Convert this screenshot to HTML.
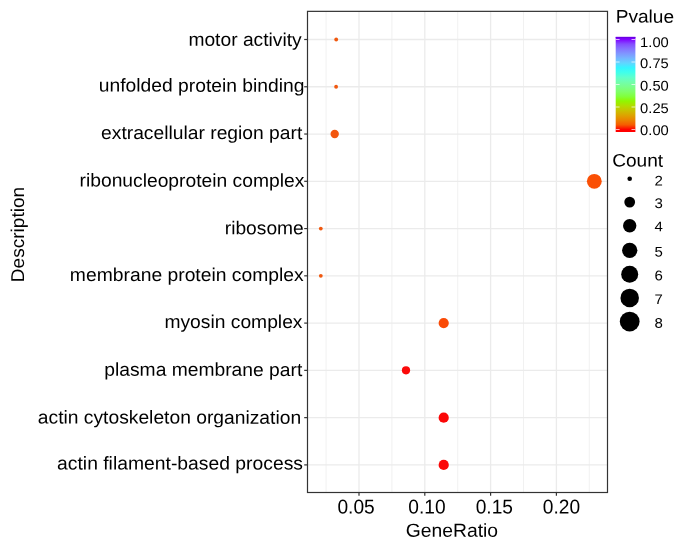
<!DOCTYPE html>
<html><head><meta charset="utf-8"><title>GeneRatio dot plot</title>
<style>
html,body{margin:0;padding:0;background:#fff;}
body{width:685px;height:548px;overflow:hidden;font-family:"Liberation Sans",sans-serif;}
svg{display:block;will-change:transform;}
text{font-family:"Liberation Sans",sans-serif;fill:#000;text-rendering:geometricPrecision;}
</style></head><body>
<svg width="685" height="548" viewBox="0 0 685 548">
<defs>
<linearGradient id="rb" x1="0" y1="1" x2="0" y2="0">
<stop offset="0.0250" stop-color="#ff0000"/>
<stop offset="0.0750" stop-color="#f65b00"/>
<stop offset="0.1250" stop-color="#eb8300"/>
<stop offset="0.1750" stop-color="#dda300"/>
<stop offset="0.2250" stop-color="#cac100"/>
<stop offset="0.2750" stop-color="#b2dc00"/>
<stop offset="0.3250" stop-color="#90f600"/>
<stop offset="0.3750" stop-color="#81ff3e"/>
<stop offset="0.4250" stop-color="#7fff69"/>
<stop offset="0.4750" stop-color="#7afe8c"/>
<stop offset="0.5250" stop-color="#71feac"/>
<stop offset="0.5750" stop-color="#60ffcc"/>
<stop offset="0.6250" stop-color="#41ffea"/>
<stop offset="0.6750" stop-color="#34f5ff"/>
<stop offset="0.7250" stop-color="#61d5ff"/>
<stop offset="0.7750" stop-color="#75b6ff"/>
<stop offset="0.8250" stop-color="#8096ff"/>
<stop offset="0.8750" stop-color="#8574ff"/>
<stop offset="0.9250" stop-color="#844dff"/>
<stop offset="0.9750" stop-color="#8000ff"/>
</linearGradient>
</defs>

<g stroke="#ebebeb" fill="none">
<line x1="326.10" x2="326.10" y1="11.35" y2="492.5" stroke-width="0.7"/>
<line x1="391.90" x2="391.90" y1="11.35" y2="492.5" stroke-width="0.7"/>
<line x1="457.70" x2="457.70" y1="11.35" y2="492.5" stroke-width="0.7"/>
<line x1="523.50" x2="523.50" y1="11.35" y2="492.5" stroke-width="0.7"/>
<line x1="589.30" x2="589.30" y1="11.35" y2="492.5" stroke-width="0.7"/>
<line x1="359.00" x2="359.00" y1="11.35" y2="492.5" stroke-width="1.3"/>
<line x1="424.80" x2="424.80" y1="11.35" y2="492.5" stroke-width="1.3"/>
<line x1="490.60" x2="490.60" y1="11.35" y2="492.5" stroke-width="1.3"/>
<line x1="556.40" x2="556.40" y1="11.35" y2="492.5" stroke-width="1.3"/>
<line x1="307.5" x2="607.5" y1="39.50" y2="39.50" stroke-width="1.3"/>
<line x1="307.5" x2="607.5" y1="86.77" y2="86.77" stroke-width="1.3"/>
<line x1="307.5" x2="607.5" y1="134.03" y2="134.03" stroke-width="1.3"/>
<line x1="307.5" x2="607.5" y1="181.30" y2="181.30" stroke-width="1.3"/>
<line x1="307.5" x2="607.5" y1="228.57" y2="228.57" stroke-width="1.3"/>
<line x1="307.5" x2="607.5" y1="275.83" y2="275.83" stroke-width="1.3"/>
<line x1="307.5" x2="607.5" y1="323.10" y2="323.10" stroke-width="1.3"/>
<line x1="307.5" x2="607.5" y1="370.37" y2="370.37" stroke-width="1.3"/>
<line x1="307.5" x2="607.5" y1="417.63" y2="417.63" stroke-width="1.3"/>
<line x1="307.5" x2="607.5" y1="464.90" y2="464.90" stroke-width="1.3"/>
</g>
<circle cx="336.2" cy="39.50" r="1.9" fill="#f0580f"/>
<circle cx="336.1" cy="86.77" r="1.9" fill="#f0580f"/>
<circle cx="334.7" cy="134.03" r="4.2" fill="#f2560e"/>
<circle cx="594.3" cy="181.30" r="7.4" fill="#fa5005"/>
<circle cx="320.8" cy="228.57" r="1.9" fill="#f0580f"/>
<circle cx="320.8" cy="275.83" r="1.9" fill="#f0580f"/>
<circle cx="443.7" cy="323.10" r="5.1" fill="#fa4a06"/>
<circle cx="406.0" cy="370.37" r="4.1" fill="#fb0a0a"/>
<circle cx="443.7" cy="417.63" r="5.1" fill="#fb0707"/>
<circle cx="443.7" cy="464.90" r="5.1" fill="#fb0707"/>
<rect x="307.5" y="11.35" width="300.00" height="481.15" fill="none" stroke="#333" stroke-width="1.2"/>
<g stroke="#333" stroke-width="1.2">
<line x1="304.2" x2="307.5" y1="39.50" y2="39.50"/>
<line x1="304.2" x2="307.5" y1="86.77" y2="86.77"/>
<line x1="304.2" x2="307.5" y1="134.03" y2="134.03"/>
<line x1="304.2" x2="307.5" y1="181.30" y2="181.30"/>
<line x1="304.2" x2="307.5" y1="228.57" y2="228.57"/>
<line x1="304.2" x2="307.5" y1="275.83" y2="275.83"/>
<line x1="304.2" x2="307.5" y1="323.10" y2="323.10"/>
<line x1="304.2" x2="307.5" y1="370.37" y2="370.37"/>
<line x1="304.2" x2="307.5" y1="417.63" y2="417.63"/>
<line x1="304.2" x2="307.5" y1="464.90" y2="464.90"/>
<line x1="359.00" x2="359.00" y1="492.5" y2="495.8"/>
<line x1="424.80" x2="424.80" y1="492.5" y2="495.8"/>
<line x1="490.60" x2="490.60" y1="492.5" y2="495.8"/>
<line x1="556.40" x2="556.40" y1="492.5" y2="495.8"/>
</g>
<text transform="translate(301.65,45.90) rotate(0.04) scale(1.0391,1)" font-size="18.5" text-anchor="end">motor activity</text>
<text transform="translate(304.40,91.72) rotate(0.04) scale(1.0410,1)" font-size="18.5" text-anchor="end">unfolded protein binding</text>
<text transform="translate(302.30,139.13) rotate(0.04) scale(1.0410,1)" font-size="18.5" text-anchor="end">extracellular region part</text>
<text transform="translate(304.30,186.75) rotate(0.04) scale(1.0408,1)" font-size="18.5" text-anchor="end">ribonucleoprotein complex</text>
<text transform="translate(303.75,234.32) rotate(0.04) scale(1.0382,1)" font-size="18.5" text-anchor="end">ribosome</text>
<text transform="translate(303.75,281.08) rotate(0.04) scale(1.0434,1)" font-size="18.5" text-anchor="end">membrane protein complex</text>
<text transform="translate(302.50,328.05) rotate(0.04) scale(1.0410,1)" font-size="18.5" text-anchor="end">myosin complex</text>
<text transform="translate(302.30,375.92) rotate(0.04) scale(1.0410,1)" font-size="18.5" text-anchor="end">plasma membrane part</text>
<text transform="translate(301.10,423.68) rotate(0.04) scale(1.0407,1)" font-size="18.5" text-anchor="end">actin cytoskeleton organization</text>
<text transform="translate(303.00,469.55) rotate(0.04) scale(1.0444,1)" font-size="18.5" text-anchor="end">actin filament-based process</text>
<text transform="translate(356.05,513.55) rotate(0.04) scale(0.9620,1)" font-size="19.9" text-anchor="middle">0.05</text>
<text transform="translate(426.95,513.55) rotate(0.04) scale(0.9620,1)" font-size="19.9" text-anchor="middle">0.10</text>
<text transform="translate(494.30,513.55) rotate(0.04) scale(0.9620,1)" font-size="19.9" text-anchor="middle">0.15</text>
<text transform="translate(561.40,513.55) rotate(0.04) scale(0.9620,1)" font-size="19.9" text-anchor="middle">0.20</text>
<text transform="translate(451.90,536.80) rotate(0.04) scale(1.0285,1)" font-size="18.8" text-anchor="middle">GeneRatio</text>
<text transform="translate(24.20,234.50) rotate(-90) scale(1.0306,1)" font-size="18.5" text-anchor="middle">Description</text>
<text transform="translate(615.70,22.60) rotate(0.04) scale(1.0610,1)" font-size="18.0" text-anchor="start">Pvalue</text>
<rect x="615.7" y="36.9" width="19.7" height="95.1" fill="url(#rb)"/>
<rect x="615.7" y="36.9" width="19.7" height="1.3" fill="#6a00e2"/>
<g stroke="#fff" stroke-width="0.7">
<line x1="615.7" x2="619.6" y1="129.5" y2="129.5"/><line x1="631.5" x2="635.4" y1="129.5" y2="129.5"/>
<line x1="615.7" x2="619.6" y1="107.0" y2="107.0"/><line x1="631.5" x2="635.4" y1="107.0" y2="107.0"/>
<line x1="615.7" x2="619.6" y1="84.5" y2="84.5"/><line x1="631.5" x2="635.4" y1="84.5" y2="84.5"/>
<line x1="615.7" x2="619.6" y1="62.0" y2="62.0"/><line x1="631.5" x2="635.4" y1="62.0" y2="62.0"/>
<line x1="615.7" x2="619.6" y1="39.5" y2="39.5"/><line x1="631.5" x2="635.4" y1="39.5" y2="39.5"/>
</g>
<text transform="translate(640.10,135.00) rotate(0.04) scale(1.0520,1)" font-size="14.0" text-anchor="start">0.00</text>
<text transform="translate(640.10,113.00) rotate(0.04) scale(1.0520,1)" font-size="14.0" text-anchor="start">0.25</text>
<text transform="translate(640.10,90.40) rotate(0.04) scale(1.0520,1)" font-size="14.0" text-anchor="start">0.50</text>
<text transform="translate(640.10,68.00) rotate(0.04) scale(1.0520,1)" font-size="14.0" text-anchor="start">0.75</text>
<text transform="translate(640.10,47.00) rotate(0.04) scale(1.0520,1)" font-size="14.0" text-anchor="start">1.00</text>
<text transform="translate(612.20,166.60) rotate(0.04) scale(1.0610,1)" font-size="18.0" text-anchor="start">Count</text>
<circle cx="629.7" cy="178.80" r="2.30" fill="#000"/>
<text transform="translate(654.60,185.60) rotate(0.04) scale(1.0720,1)" font-size="14.0" text-anchor="start">2</text>
<circle cx="629.7" cy="202.10" r="5.40" fill="#000"/>
<text transform="translate(654.60,208.00) rotate(0.04) scale(1.0720,1)" font-size="14.0" text-anchor="start">3</text>
<circle cx="629.7" cy="225.70" r="6.69" fill="#000"/>
<text transform="translate(654.60,231.20) rotate(0.04) scale(1.0720,1)" font-size="14.0" text-anchor="start">4</text>
<circle cx="629.7" cy="250.30" r="7.67" fill="#000"/>
<text transform="translate(654.60,256.40) rotate(0.04) scale(1.0720,1)" font-size="14.0" text-anchor="start">5</text>
<circle cx="629.7" cy="274.20" r="8.51" fill="#000"/>
<text transform="translate(654.60,280.20) rotate(0.04) scale(1.0720,1)" font-size="14.0" text-anchor="start">6</text>
<circle cx="629.7" cy="297.90" r="9.24" fill="#000"/>
<text transform="translate(654.60,303.90) rotate(0.04) scale(1.0720,1)" font-size="14.0" text-anchor="start">7</text>
<circle cx="629.7" cy="321.60" r="9.90" fill="#000"/>
<text transform="translate(654.60,327.70) rotate(0.04) scale(1.0720,1)" font-size="14.0" text-anchor="start">8</text>
</svg></body></html>
